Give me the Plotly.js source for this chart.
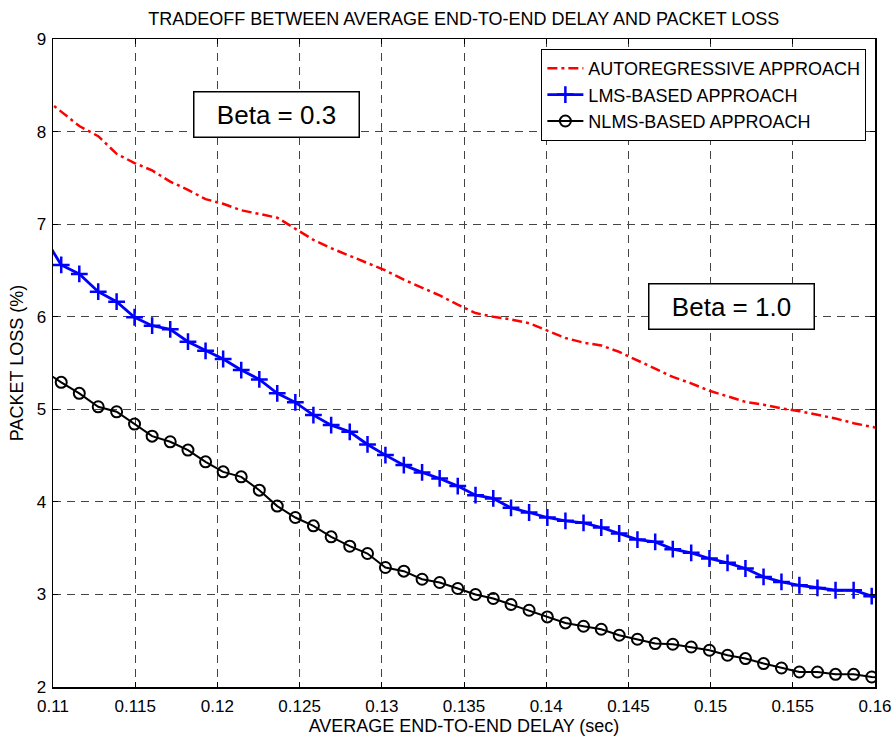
<!DOCTYPE html>
<html>
<head>
<meta charset="utf-8">
<script src="https://cdn.plot.ly/plotly-3.0.1.min.js"></script>
<style>html,body{margin:0;padding:0;background:#fff;}#chart{width:896px;height:737px;}</style>
</head>
<body>
<div id="chart"></div>
<script>
const delay = [0.1094, 0.1105, 0.1116, 0.11275, 0.11387, 0.11496, 0.11603, 0.11713, 0.11821, 0.11928,
  0.12035, 0.12145, 0.12255, 0.12364, 0.12474, 0.12584, 0.12692, 0.12805, 0.12913, 0.13022,
  0.13134, 0.13245, 0.13352, 0.13462, 0.1357, 0.13678, 0.13786, 0.13896, 0.14007, 0.14117,
  0.14227, 0.14335, 0.14444, 0.14555, 0.14663, 0.1477, 0.14882, 0.14993, 0.15103, 0.15212,
  0.15322, 0.15431, 0.1554, 0.1565, 0.1576, 0.1587, 0.1598, 0.1609];
const autoregressive = [8.37, 8.22, 8.06, 7.95, 7.76, 7.66, 7.58, 7.46, 7.37, 7.27,
  7.22, 7.15, 7.11, 7.07, 6.95, 6.83, 6.74, 6.66, 6.58, 6.50,
  6.40, 6.31, 6.23, 6.13, 6.04, 6.00, 5.97, 5.93, 5.85, 5.77,
  5.72, 5.69, 5.62, 5.53, 5.44, 5.35, 5.28, 5.20, 5.14, 5.08,
  5.05, 5.01, 4.98, 4.94, 4.90, 4.85, 4.81, 4.77];
const lms = [6.88, 6.559, 6.462, 6.270, 6.162, 5.994, 5.903, 5.864, 5.730, 5.632,
  5.543, 5.424, 5.323, 5.172, 5.075, 4.937, 4.829, 4.757, 4.620, 4.505,
  4.397, 4.318, 4.253, 4.170, 4.072, 4.037, 3.935, 3.885, 3.831, 3.795,
  3.773, 3.723, 3.658, 3.593, 3.568, 3.489, 3.449, 3.388, 3.341, 3.280,
  3.189, 3.135, 3.099, 3.070, 3.045, 3.045, 2.981, 2.95];
const nlms = [5.42, 5.291, 5.172, 5.027, 4.973, 4.840, 4.710, 4.649, 4.559, 4.432,
  4.324, 4.270, 4.126, 3.954, 3.831, 3.741, 3.622, 3.521, 3.442, 3.291,
  3.251, 3.164, 3.129, 3.064, 2.999, 2.956, 2.891, 2.829, 2.757, 2.692,
  2.656, 2.624, 2.559, 2.516, 2.469, 2.462, 2.432, 2.397, 2.343, 2.307,
  2.253, 2.205, 2.162, 2.162, 2.137, 2.137, 2.108, 2.09];
const seriesNames = ['AUTOREGRESSIVE APPROACH', 'LMS-BASED APPROACH', 'NLMS-BASED APPROACH'];
const xTickVals = [0.11, 0.115, 0.12, 0.125, 0.13, 0.135, 0.14, 0.145, 0.15, 0.155, 0.16];
const xTickText = ['0.11', '0.115', '0.12', '0.125', '0.13', '0.135', '0.14', '0.145', '0.15', '0.155', '0.16'];
const yTickVals = [2, 3, 4, 5, 6, 7, 8, 9];
const betaLabels = ['Beta = 0.3', 'Beta = 1.0'];
const betaPos = [[0.12357, 8.184], [0.1513, 6.107]];

const FONT = '"Liberation Sans", Arial, Helvetica, sans-serif';

const traces = [
  {x: delay, y: autoregressive, name: seriesNames[0], mode: 'lines',
   line: {color: '#ff0000', width: 2.5, dash: '10px,4px,3px,4px'}},
  {x: delay, y: lms, name: seriesNames[1], mode: 'lines+markers',
   line: {color: '#0000ff', width: 2.8},
   marker: {symbol: 'cross-thin-open', size: 12, color: '#0000ff', line: {color: '#0000ff', width: 2.5}}},
  {x: delay, y: nlms, name: seriesNames[2], mode: 'lines+markers',
   line: {color: '#000000', width: 2},
   marker: {symbol: 'circle-open', size: 11, color: '#000000', line: {color: '#000000', width: 2}}}
];

const axisCommon = {
  showline: true, linecolor: '#000', linewidth: 1.5, mirror: 'ticks',
  ticks: 'inside', ticklen: 5, tickcolor: '#000', tickwidth: 1,
  showgrid: true, gridcolor: '#444', griddash: '8px,6px', gridwidth: 1,
  zeroline: false, tickfont: {family: FONT, size: 17, color: '#000'}
};

const layout = {
  width: 896, height: 737,
  paper_bgcolor: '#fff', plot_bgcolor: '#fff',
  margin: {l: 53, r: 21, t: 39, b: 50},
  title: {text: 'TRADEOFF BETWEEN AVERAGE END-TO-END DELAY AND PACKET LOSS',
          font: {family: FONT, size: 18, color: '#000'}, x: 0.5176, xanchor: 'center', y: 0.975, yanchor: 'middle'},
  xaxis: Object.assign({}, axisCommon, {
    range: [0.11, 0.16], tickvals: xTickVals, ticktext: xTickText, ticklabelstandoff: 3,
    title: {text: 'AVERAGE END-TO-END DELAY (sec)', font: {family: FONT, size: 18, color: '#000'}, standoff: 0}
  }),
  yaxis: Object.assign({}, axisCommon, {
    range: [2, 9], tickvals: yTickVals, ticklabelstandoff: 2,
    title: {text: 'PACKET LOSS (%)', font: {family: FONT, size: 18, color: '#000'}, standoff: 8}
  }),
  showlegend: true,
  legend: {x: 0.9895, xanchor: 'right', y: 0.9846, yanchor: 'top',
           bgcolor: '#fff', bordercolor: '#000', borderwidth: 1,
           font: {family: FONT, size: 18, color: '#000'}, itemwidth: 36, tracegroupgap: 0},
  annotations: betaLabels.map((t, i) => ({
    x: betaPos[i][0], y: betaPos[i][1], xref: 'x', yref: 'y', text: t, showarrow: false,
    font: {family: FONT, size: 26, color: '#000'}, bordercolor: '#000', borderwidth: 1.5,
    bgcolor: '#fff', width: 162, height: 42, borderpad: 1
  }))
};

Plotly.newPlot('chart', traces, layout, {displayModeBar: false, staticPlot: true});
</script>
</body>
</html>
